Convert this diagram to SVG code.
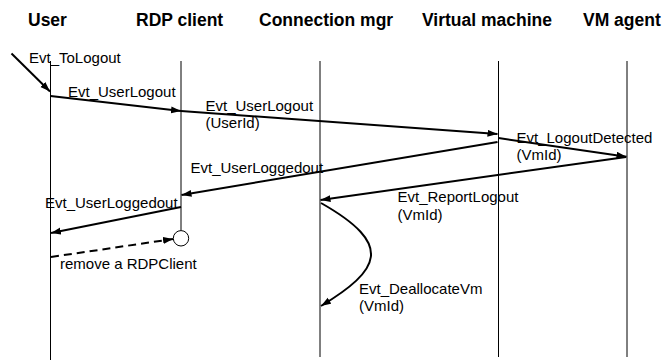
<svg xmlns="http://www.w3.org/2000/svg" width="665" height="360" viewBox="0 0 665 360">
  <defs>
    <marker id="head" markerUnits="userSpaceOnUse" markerWidth="11" markerHeight="8" refX="10" refY="3.5" orient="auto">
      <path d="M0,0 L10,3.5 L0,7 z" fill="#000"/>
    </marker>
    <style>
      .hdr { font-family: "Liberation Sans", Arial, sans-serif; font-weight: bold; font-size: 17.5px; fill: #000; }
      .lbl { font-family: "Liberation Sans", Arial, sans-serif; font-size: 15px; fill: #000; }
      .life { stroke: #000; stroke-width: 1; fill: none; }
      .msg { stroke: #000; stroke-width: 2; fill: none; marker-end: url(#head); }
      .dash { stroke-dasharray: 8 5; }
    </style>
  </defs>
  <rect width="665" height="360" fill="#fff"/>

  <!-- participants with their lifelines -->
  <g id="user">
    <text class="hdr" x="28" y="26">User</text>
    <line class="life" x1="50.5" y1="61" x2="50.5" y2="360"/>
  </g>
  <g id="rdp-client">
    <text class="hdr" x="136" y="26">RDP client</text>
    <line class="life" x1="181" y1="61" x2="181" y2="230.5"/>
    <circle cx="181" cy="238.3" r="7.7" fill="#fff" stroke="#000" stroke-width="1"/>
  </g>
  <g id="connection-mgr">
    <text class="hdr" x="259" y="26">Connection mgr</text>
    <line class="life" x1="320" y1="61" x2="320" y2="357"/>
  </g>
  <g id="virtual-machine">
    <text class="hdr" x="422" y="26">Virtual machine</text>
    <line class="life" x1="498.5" y1="61" x2="498.5" y2="357"/>
  </g>
  <g id="vm-agent">
    <text class="hdr" x="583" y="26">VM agent</text>
    <line class="life" x1="627" y1="61" x2="627" y2="357"/>
  </g>

  <!-- messages -->
  <g id="connectors">
    <line class="msg" x1="11.5" y1="53.5" x2="50" y2="91.5"/>
    <line class="msg" x1="50.5" y1="96" x2="181" y2="111"/>
    <line class="msg" x1="181" y1="111" x2="497.5" y2="134"/>
    <line class="msg" x1="498.5" y1="138" x2="626.5" y2="156.7"/>
    <line class="msg" x1="497.5" y1="142" x2="181.5" y2="195"/>
    <line class="msg" x1="626" y1="157" x2="320.5" y2="200"/>
    <line class="msg" x1="181" y1="207" x2="51" y2="233"/>
    <line class="msg dash" x1="51" y1="257" x2="173" y2="239"/>
    <path class="msg" d="M321,203 C395,245 380,270 321,306"/>
  </g>

  <!-- message labels -->
  <g id="labels">
    <text class="lbl" x="29" y="62.5">Evt_ToLogout</text>
    <text class="lbl" x="68" y="96.5">Evt_UserLogout</text>
    <text class="lbl" x="205.5" y="111">Evt_UserLogout</text>
    <text class="lbl" x="205.5" y="128">(UserId)</text>
    <text class="lbl" x="516.5" y="142.5">Evt_LogoutDetected</text>
    <text class="lbl" x="516.5" y="160">(VmId)</text>
    <text class="lbl" x="190.5" y="172.5">Evt_UserLoggedout</text>
    <text class="lbl" x="397.5" y="201.5">Evt_ReportLogout</text>
    <text class="lbl" x="397.5" y="219.5">(VmId)</text>
    <text class="lbl" x="45" y="208">Evt_UserLoggedout</text>
    <text class="lbl" x="60" y="269">remove a RDPClient</text>
    <text class="lbl" x="359" y="293.5">Evt_DeallocateVm</text>
    <text class="lbl" x="359" y="310.5">(VmId)</text>
  </g>
</svg>
